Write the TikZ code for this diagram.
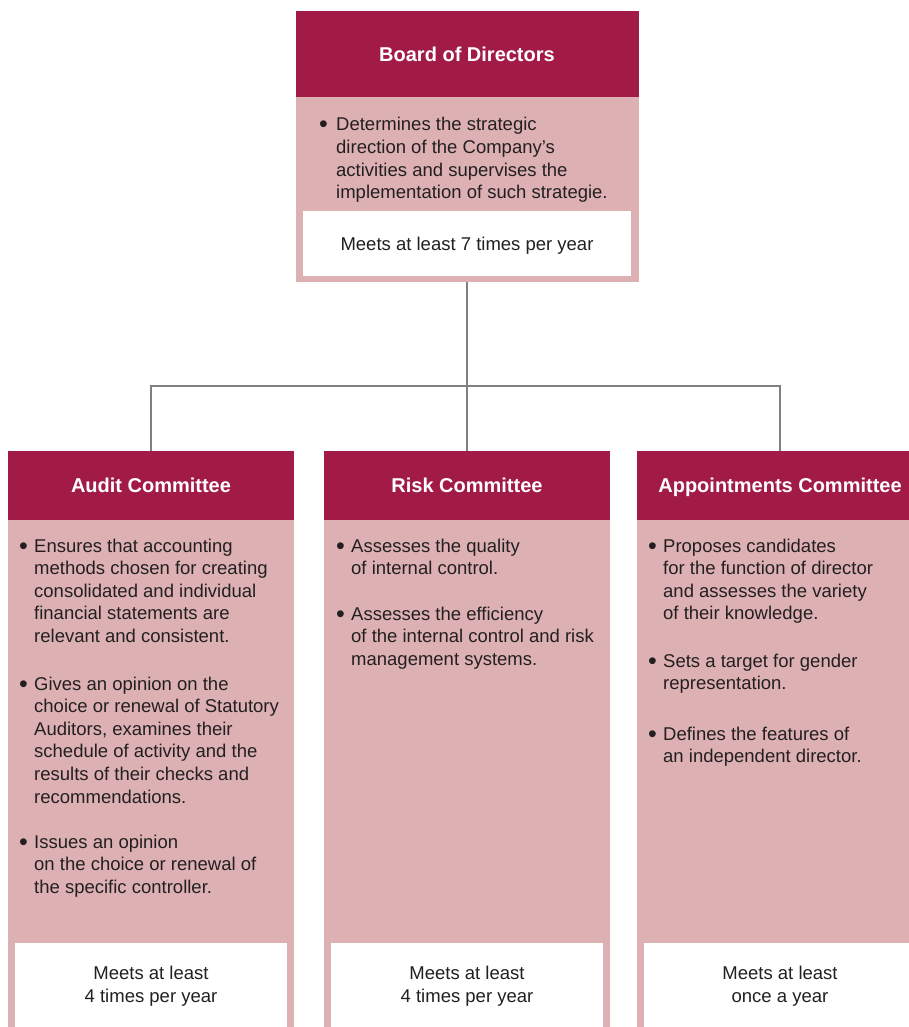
\documentclass[tikz,border=0pt]{standalone}
\usepackage{fontspec}
\setmainfont{Liberation Sans}
\definecolor{crim}{HTML}{A21B47}
\definecolor{rose}{HTML}{DDB1B3}
\definecolor{ink}{HTML}{231F20}
\definecolor{wire}{HTML}{808080}
\begin{document}
\begin{tikzpicture}[x=1pt,y=-1pt,
  hdr/.style={fill=crim,text=white,font=\fontsize{20}{24}\selectfont\bfseries,
    inner sep=0pt,text height=14.3pt,text depth=0pt,minimum height=69pt,minimum width=286pt},
  bodybox/.style={fill=rose,inner sep=0pt,minimum width=286pt},
  meetbox/.style={fill=white,inner sep=0pt,minimum width=272pt},
  txt/.style={text=ink,font=\fontsize{18.5}{22.6}\selectfont,inner sep=0pt,align=left,anchor=base west},
  meet/.style={text=ink,font=\fontsize{18.5}{22.6}\selectfont,inner sep=0pt,align=center},
  bul/.style={text=ink,font=\fontsize{25}{25}\selectfont,inner sep=0pt,anchor=base west},
  conn/.style={draw=wire,line width=1.4pt}
]
\useasboundingbox (0,0) rectangle (909,1027);
\clip (0,0) rectangle (909,1027);

% Board of Directors
\node[hdr,minimum width=343pt,minimum height=86pt] (bh) at (467,54) {Board of Directors};
\node[bodybox,minimum width=343pt,minimum height=185pt] (bb) at (467,189.5) {};
\node[meetbox,minimum width=328pt,minimum height=65pt,text=ink,font=\fontsize{18.5}{22.6}\selectfont,text height=13.3pt,text depth=0pt] (bm) at (467,243.5) {Meets at least 7 times per year};
\node[bul] (b1b) at (319,133) {•};
\node[txt] (b1) at (336,198.8) {Determines the strategic\\direction of the Company’s\\activities and supervises the\\implementation of such strategie.};

% Committee boxes
\node[hdr] (ah) at (151,485.5) {Audit Committee};
\node[hdr] (rh) at (467,485.5) {Risk Committee};
\node[hdr] (ph) at (780,485.5) {Appointments Committee};
\node[bodybox,minimum height=520pt] (ab) at (151,780) {};
\node[bodybox,minimum height=520pt] (rb) at (467,780) {};
\node[bodybox,minimum height=520pt] (pb) at (780,780) {};
\node[meetbox,minimum height=97pt] (am) at (151,991.5) {};
\node[meetbox,minimum height=97pt] (rm) at (467,991.5) {};
\node[meetbox,minimum height=97pt] (pm) at (780,991.5) {};

% Audit text
\node[bul] (a1b) at (19,554) {•};
\node[txt] (a1) at (34,642.4) {Ensures that accounting\\methods chosen for creating\\consolidated and individual\\financial statements are\\relevant and consistent.};
\node[bul] (a2b) at (19,692) {•};
\node[txt] (a2) at (34,803) {Gives an opinion on the\\choice or renewal of Statutory\\Auditors, examines their\\schedule of activity and the\\results of their checks and\\recommendations.};
\node[bul] (a3b) at (19,850) {•};
\node[txt] (a3) at (34,893.2) {Issues an opinion\\on the choice or renewal of\\the specific controller.};

% Risk text
\node[bul] (r1b) at (336,554) {•};
\node[txt] (r1) at (351,574.6) {Assesses the quality\\of internal control.};
\node[bul] (r2b) at (336,622) {•};
\node[txt] (r2) at (351,665.2) {Assesses the efficiency\\of the internal control and risk\\management systems.};

% Appointments text
\node[bul] (p1b) at (648,554) {•};
\node[txt] (p1) at (663,619.8) {Proposes candidates\\for the function of director\\and assesses the variety\\of their knowledge.};
\node[bul] (p2b) at (648,669) {•};
\node[txt] (p2) at (663,689.6) {Sets a target for gender\\representation.};
\node[bul] (p3b) at (648,742) {•};
\node[txt] (p3) at (663,762.6) {Defines the features of\\an independent director.};

% Meeting frequencies
\node[meet] (amt) at (151,986.5) {Meets at least\\4 times per year};
\node[meet] (rmt) at (467,986.5) {Meets at least\\4 times per year};
\node[meet] (pmt) at (780,986.5) {Meets at least\\once a year};

% Connectors
\coordinate (bus) at (467,386);
\draw[conn] (bb.south) -- (rh.north);
\draw[conn] (ah.north) |- (bus) -| (ph.north);
\end{tikzpicture}
\end{document}
